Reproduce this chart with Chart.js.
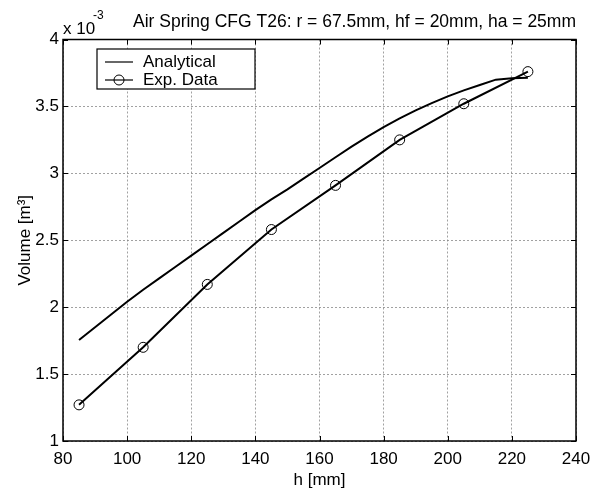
<!DOCTYPE html>
<html>
<head>
<meta charset="utf-8">
<script src="https://cdn.jsdelivr.net/npm/chart.js@4.4.0/dist/chart.umd.min.js"></script>
<style>
  body { margin: 0; background: #fff; }
  canvas { display: block; }
</style>
</head>
<body>
<canvas id="springChart" width="609" height="489"></canvas>
<script>
// data (volume in units of 1e-3 m^3)
const seriesNames = ["Analytical", "Exp. Data"];
const hAnalytical = [85, 90, 95, 100, 105, 110, 115, 120, 125, 130, 135, 140, 145, 150, 155,
                     160, 165, 170, 175, 180, 185, 190, 195, 200, 205, 210, 215, 220, 225];
const vAnalytical = [1.755, 1.85, 1.945, 2.04, 2.13, 2.215, 2.30, 2.385, 2.47, 2.555, 2.64, 2.725, 2.805, 2.88, 2.96,
                     3.04, 3.12, 3.20, 3.275, 3.345, 3.41, 3.47, 3.525, 3.575, 3.62, 3.66, 3.70, 3.71, 3.715];
const hExp = [85, 105, 125, 145, 165, 185, 205, 225];
const vExp = [1.27, 1.70, 2.17, 2.58, 2.91, 3.25, 3.52, 3.76];

const FONT = "'Liberation Sans', Arial, Helvetica, sans-serif";

// box, inward ticks, exponent label and legend like the matlab figure
const matlabFrame = {
    id: "matlabFrame",
    afterDraw(chart) {
        const { ctx, chartArea: a, scales: { x, y } } = chart;
        ctx.save();
        ctx.strokeStyle = "#000";
        ctx.lineWidth = 1;
        ctx.beginPath();
        x.ticks.forEach(t => {
            let px = Math.round(x.getPixelForValue(t.value)) + 0.5;
            ctx.moveTo(px, a.bottom); ctx.lineTo(px, a.bottom - 5);
            ctx.moveTo(px, a.top); ctx.lineTo(px, a.top + 5);
        });
        y.ticks.forEach(t => {
            let py = Math.round(y.getPixelForValue(t.value)) + 0.5;
            ctx.moveTo(a.left, py); ctx.lineTo(a.left + 5, py);
            ctx.moveTo(a.right, py); ctx.lineTo(a.right - 5, py);
        });
        ctx.stroke();
        ctx.lineWidth = 1.5;
        ctx.strokeRect(a.left, a.top, a.right - a.left, a.bottom - a.top);

        // x 10^-3
        ctx.fillStyle = "#000";
        ctx.textAlign = "left";
        ctx.textBaseline = "alphabetic";
        ctx.font = "17px " + FONT;
        ctx.fillText("x 10", 63, 34);
        ctx.font = "12px " + FONT;
        ctx.fillText("-3", 93, 19);

        // legend
        const lx = 97, ly = 49, lw = 158, lh = 40;
        ctx.fillStyle = "#fff";
        ctx.fillRect(lx, ly, lw, lh);
        ctx.lineWidth = 1.2;
        ctx.strokeStyle = "#000";
        ctx.strokeRect(lx, ly, lw, lh);
        const rows = [62, 80];
        chart.data.datasets.forEach((ds, i) => {
            ctx.strokeStyle = "#000";
            ctx.lineWidth = 1.2;
            ctx.beginPath();
            ctx.moveTo(105, rows[i]); ctx.lineTo(133, rows[i]);
            ctx.stroke();
            if (ds.pointRadius > 0) {
                ctx.lineWidth = 1;
                ctx.beginPath();
                ctx.arc(119, rows[i], 5, 0, Math.PI * 2);
                ctx.stroke();
            }
            ctx.fillStyle = "#000";
            ctx.font = "17px " + FONT;
            ctx.textBaseline = "middle";
            ctx.fillText(seriesNames[i], 143, rows[i]);
        });
        ctx.restore();
    }
};

document.addEventListener("DOMContentLoaded", function () {
    let ctx = document.getElementById("springChart").getContext("2d");
    new Chart(ctx, {
        type: "line",
        data: {
            datasets: [{
                label: seriesNames[0],
                data: hAnalytical.map((h, i) => ({ x: h, y: vAnalytical[i] })),
                borderColor: "#000",
                borderWidth: 2,
                pointRadius: 0,
                tension: 0,
                fill: false
            }, {
                label: seriesNames[1],
                data: hExp.map((h, i) => ({ x: h, y: vExp[i] })),
                borderColor: "#000",
                borderWidth: 2,
                pointRadius: 5,
                pointBorderWidth: 1,
                pointBorderColor: "#000",
                pointBackgroundColor: "rgba(0,0,0,0)",
                tension: 0,
                fill: false
            }]
        },
        options: {
            responsive: false,
            animation: false,
            layout: { padding: { left: 0, right: 33, top: 0, bottom: 0 } },
            plugins: {
                legend: { display: false },
                tooltip: { enabled: false },
                title: {
                    display: true,
                    text: "Air Spring CFG T26: r = 67.5mm, hf = 20mm, ha = 25mm",
                    align: "end",
                    color: "#000",
                    font: { family: FONT, size: 17.5, weight: "normal", lineHeight: 1.2 },
                    padding: { top: 12, bottom: 6.5 }
                }
            },
            scales: {
                x: {
                    type: "linear",
                    min: 80,
                    max: 240,
                    ticks: { stepSize: 20, color: "#000", padding: 8, font: { family: FONT, size: 17 } },
                    grid: { color: "#8a8a8a", lineWidth: 0.8, drawTicks: false },
                    border: { display: false, dash: [2, 2] },
                    title: {
                        display: true, text: "h [mm]", color: "#000",
                        font: { family: FONT, size: 17, lineHeight: 1 },
                        padding: { top: 0, bottom: 0 }
                    },
                    afterFit: s => { s.height = 48; }
                },
                y: {
                    min: 1,
                    max: 4,
                    ticks: {
                        stepSize: 0.5, color: "#000", padding: 4, font: { family: FONT, size: 17 },
                        callback: v => String(v)
                    },
                    grid: { color: "#8a8a8a", lineWidth: 0.8, drawTicks: false },
                    border: { display: false, dash: [2, 2] },
                    title: {
                        display: true, text: "Volume [m³]", color: "#000",
                        font: { family: FONT, size: 17, lineHeight: 1.2 },
                        padding: { top: 15, bottom: 0 }
                    },
                    afterFit: s => { s.width = 63; }
                }
            }
        },
        plugins: [matlabFrame]
    });
});
</script>
</body>
</html>
